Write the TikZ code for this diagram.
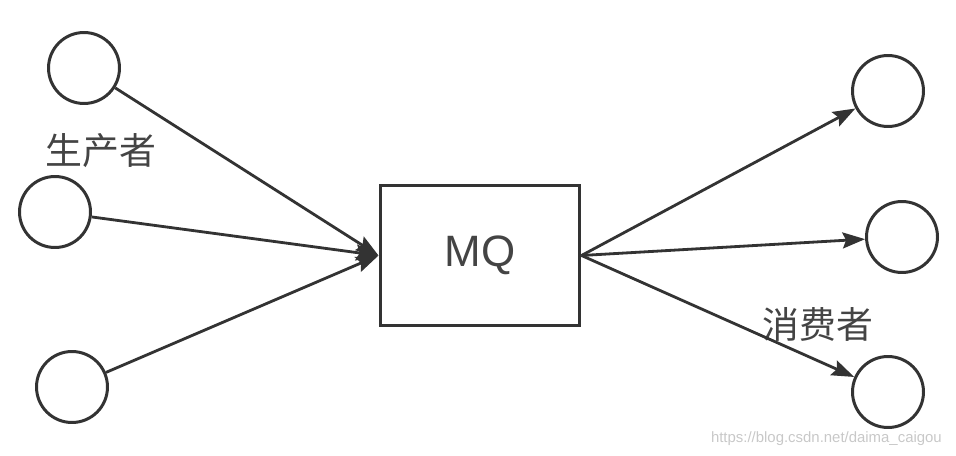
\documentclass[tikz,border=0pt]{standalone}
\usepackage{fontspec}
\setmainfont{Liberation Sans}
\newfontfamily\cjk{Noto Sans CJK SC}
\usetikzlibrary{arrows.meta}
\definecolor{linegray}{RGB}{51,51,51}
\definecolor{textgray}{RGB}{68,68,68}
\definecolor{markgray}{RGB}{200,200,200}

\begin{document}
\begin{tikzpicture}[x=0.02cm, y=-0.02cm,
  client/.style={circle, draw=linegray, line width=1.7pt, minimum size=1.42cm, inner sep=0pt},
  queue/.style={rectangle, draw=linegray, line width=1.7pt, minimum width=4cm, minimum height=2.8cm, inner sep=0pt},
  flow/.style={draw=linegray, line width=1.6pt, -{Stealth[length=0.45cm, width=0.32cm, inset=0.07cm]}},
  role/.style={font=\cjk\fontsize{21}{21}\selectfont, text=textgray}]
  \useasboundingbox (0,0) rectangle (956,456);

  % Message queue
  \node[queue, font=\fontsize{25}{25}\selectfont, text=textgray] (mq) at (480,255.5) {MQ};

  % Producers (left)
  \foreach \n/\x/\y in {p1/84/68, p2/55/212, p3/72/387} {
    \node[client] (\n) at (\x,\y) {};
  }
  \node[role] (plabel) at (101,151) {生产者};

  % Consumers (right)
  \foreach \n/\x/\y in {c1/888/91, c2/902/237, c3/888/392} {
    \node[client] (\n) at (\x,\y) {};
  }
  \node[role] (clabel) at (818,324) {消费者};

  % Arrows into the queue
  \foreach \n in {p1, p2, p3} {
    \draw[flow] (\n) -- (mq.west);
  }
  % Arrows out of the queue
  \foreach \n in {c1, c2, c3} {
    \draw[flow] (mq.east) -- (\n);
  }

  % Watermark
  \node[font=\fontsize{8.5}{8.5}\selectfont, text=markgray, anchor=east] (mark) at (948,439) {https://blog.csdn.net/daima\_caigou};
\end{tikzpicture}
\end{document}
